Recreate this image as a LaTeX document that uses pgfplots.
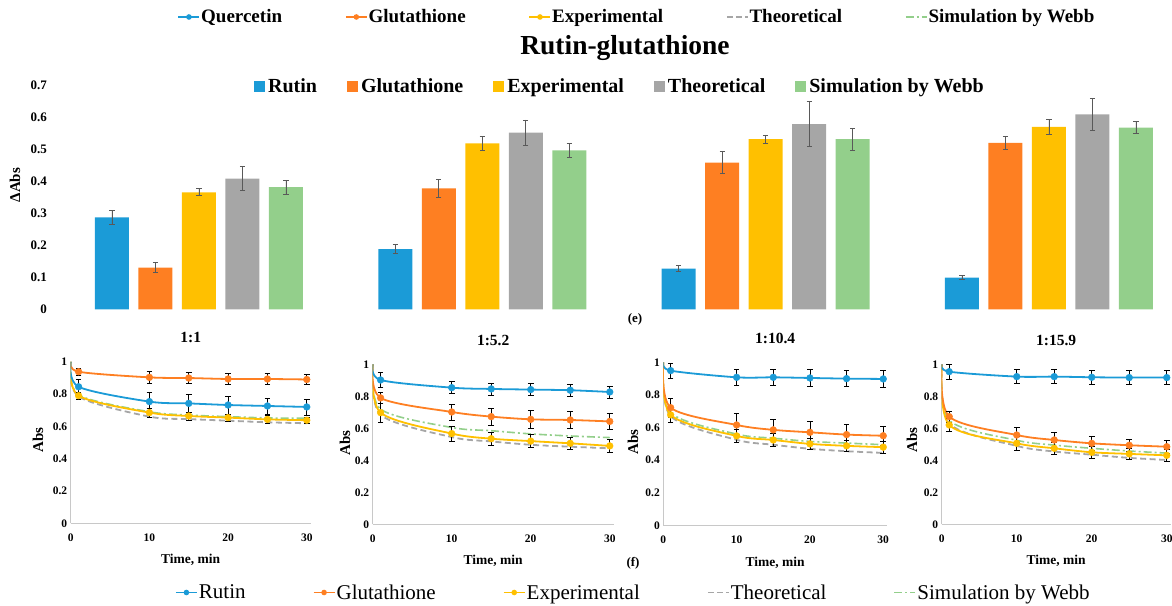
\documentclass[border=0pt]{standalone}
\usepackage{pgfplots}
\pgfplotsset{compat=1.18}
\usepackage{pgfplotstable}
\usepackage{fontspec}
\setmainfont{Liberation Serif}

\definecolor{cRut}{HTML}{1B9BD7}
\definecolor{cGlu}{HTML}{FE7F22}
\definecolor{cExp}{HTML}{FFC000}
\definecolor{cThe}{HTML}{A6A6A6}
\definecolor{cWeb}{HTML}{93CF8B}
\definecolor{cAxis}{HTML}{C8C8C8}
\definecolor{cErr}{HTML}{595959}

\newcommand\fs[1]{\fontsize{#1}{#1}\selectfont}

% Delta Abs per ratio group (0 = 1:1, 1 = 1:5.2, 2 = 1:10.4, 3 = 1:15.9)
\pgfplotstableread{
g rut  rute  glu   glue  ex    exe   th    the   wb    wbe
0 0.287 0.021 0.130 0.016 0.365 0.011 0.408 0.038 0.381 0.021
1 0.188 0.014 0.377 0.027 0.518 0.022 0.551 0.040 0.496 0.021
2 0.127 0.009 0.458 0.034 0.531 0.013 0.578 0.071 0.531 0.034
3 0.099 0.006 0.519 0.020 0.569 0.023 0.608 0.050 0.567 0.019
}\bars

% Absorbance kinetics, one table per ratio
\pgfplotstableread{
t  rut   rute  glu   glue  ex    exe   th    wb
0  1     0     1     0     1     0     1     1
1  0.845 0.045 0.938 0.020 0.790 0.020 0.785 0.795
10 0.753 0.055 0.903 0.038 0.685 0.028 0.660 0.690
15 0.742 0.055 0.899 0.035 0.664 0.025 0.645 0.670
20 0.732 0.055 0.893 0.033 0.654 0.022 0.635 0.660
25 0.726 0.050 0.893 0.033 0.643 0.022 0.625 0.652
30 0.720 0.050 0.890 0.030 0.638 0.020 0.619 0.650
}\pa
\pgfplotstableread{
t  rut   rute  glu   glue  ex    exe   th    wb
0  1     0     1     0     1     0     1     1
1  0.902 0.045 0.790 0.035 0.698 0.060 0.685 0.720
10 0.854 0.038 0.702 0.050 0.567 0.048 0.545 0.605
15 0.846 0.038 0.673 0.052 0.535 0.042 0.518 0.585
20 0.842 0.037 0.656 0.054 0.520 0.042 0.497 0.565
25 0.838 0.036 0.652 0.054 0.506 0.040 0.485 0.552
30 0.827 0.037 0.643 0.050 0.490 0.040 0.475 0.542
}\pb
\pgfplotstableread{
t  rut   rute  glu   glue  ex    exe   th    wb
0  1     0     1     0     1     0     1     1
1  0.949 0.045 0.722 0.057 0.678 0.045 0.670 0.690
10 0.908 0.050 0.616 0.070 0.549 0.040 0.525 0.560
15 0.908 0.050 0.586 0.065 0.524 0.040 0.495 0.535
20 0.904 0.050 0.571 0.065 0.500 0.035 0.470 0.515
25 0.900 0.050 0.557 0.065 0.488 0.035 0.455 0.505
30 0.898 0.050 0.550 0.060 0.480 0.035 0.445 0.495
}\pc
\pgfplotstableread{
t  rut   rute  glu   glue  ex    exe   th    wb
0  1     0     1     0     1     0     1     1
1  0.954 0.045 0.673 0.035 0.621 0.040 0.630 0.650
10 0.923 0.045 0.558 0.045 0.506 0.045 0.490 0.525
15 0.923 0.045 0.527 0.045 0.475 0.040 0.455 0.495
20 0.919 0.045 0.506 0.045 0.450 0.035 0.435 0.475
25 0.917 0.045 0.494 0.040 0.440 0.035 0.415 0.458
30 0.917 0.045 0.485 0.040 0.431 0.035 0.402 0.445
}\pd

\pgfplotsset{
  kinetic/.style={
    scale only axis, xmin=0, xmax=30.5, ymin=0, ymax=1,
    separate axis lines, axis x line=bottom, axis y line=left,
    axis line style={-, draw=cAxis, line width=0.9pt},
    xtick={0,10,20,30}, ytick={0,0.2,0.4,0.6,0.8,1},
    major tick length=0pt,
    /pgf/number format/assume math mode=true,
    tick label style={font=\bfseries\fs{11.5}},
    xticklabel style={yshift=-7pt},
    xlabel={Time, min},
    xlabel style={font=\bfseries\fs{13.5}, at={(axis description cs:0.5,-0.227)}, anchor=center},
    ylabel={Abs},
    ylabel style={font=\bfseries\fs{15}, anchor=center},
    title style={font=\bfseries\fs{15.5}, at={(axis description cs:0.5,1.11)}, anchor=center},
  },
  fitline/.style={smooth, no markers, line width=1.8pt},
  theo/.style={fitline, cThe, dash pattern=on 6pt off 3.5pt},
  webb/.style={fitline, cWeb, line width=1.6pt, dash pattern=on 8pt off 3pt on 2pt off 3pt},
  pts/.style={only marks, mark=*, mark size=3.4pt, forget plot,
    skip coords between index={0}{1},
    error bars/y dir=both, error bars/y explicit, error bars/error mark=-,
    error bars/error bar style={black, line width=0.7pt},
    error bars/error mark options={rotate=90, black, line width=0.7pt, mark size=2.8pt}},
  bar/.style={draw=none,
    error bars/y dir=both, error bars/y explicit, error bars/error mark=-,
    error bars/error bar style={cErr, line width=0.8pt},
    error bars/error mark options={rotate=90, cErr, line width=0.8pt, mark size=2.6pt}},
  lineleg/.style={legend image code/.code={%
    \draw[mark repeat=2, mark phase=2, ##1] plot coordinates {(0pt,0pt) (10.5pt,0pt) (21pt,0pt)};}},
  page/.style={scale only axis, hide axis, at={(0pt,0pt)}, anchor=south west,
    width=1172pt, height=605pt, xmin=0, xmax=1172, ymin=0, ymax=605},
}

\begin{document}
\begin{tikzpicture}
\path[use as bounding box] (0pt,0pt) rectangle (1172pt,605pt);

% top legend (quercetin set)
\begin{axis}[page, lineleg,
  legend style={at={(axis cs:636.5,588)}, anchor=center, draw=none, fill=none,
    legend columns=-1, font=\bfseries\fs{19}, nodes={inner sep=1pt},
    /tikz/every even column/.append style={column sep=62pt}}]
\addlegendimage{cRut, line width=1.5pt, mark=*, mark size=2pt}
\addlegendentry{Quercetin}
\addlegendimage{cGlu, line width=1.5pt, mark=*, mark size=2pt}
\addlegendentry{Glutathione}
\addlegendimage{cExp, line width=1.5pt, mark=*, mark size=2pt}
\addlegendentry{Experimental}
\addlegendimage{cThe, line width=1.5pt, dash pattern=on 6pt off 3pt}
\addlegendentry{Theoretical}
\addlegendimage{cWeb, line width=1.5pt, dash pattern=on 8pt off 3pt on 2pt off 3pt}
\addlegendentry{Simulation by Webb}
\end{axis}

% bottom legend (rutin set)
\begin{axis}[page, lineleg,
  legend style={at={(axis cs:633,12.5)}, anchor=center, draw=none, fill=none,
    legend columns=-1, font=\fs{21}, nodes={inner sep=1.25pt},
    /tikz/every even column/.append style={column sep=66pt}}]
\addlegendimage{cRut, line width=1.5pt, mark=*, mark size=2pt}
\addlegendentry{Rutin}
\addlegendimage{cGlu, line width=1.5pt, mark=*, mark size=2pt}
\addlegendentry{Glutathione}
\addlegendimage{cExp, line width=1.5pt, mark=*, mark size=2pt}
\addlegendentry{Experimental}
\addlegendimage{cThe, line width=1.5pt, dash pattern=on 6pt off 3pt}
\addlegendentry{Theoretical}
\addlegendimage{cWeb, line width=1.5pt, dash pattern=on 8pt off 3pt on 2pt off 3pt}
\addlegendentry{Simulation by Webb}
\end{axis}

\node[font=\bfseries\fs{27.5}] at (625pt,557pt) {Rutin-glutathione};
\node[font=\bfseries\fs{13}] at (635pt,286pt) {(e)};
\node[font=\bfseries\fs{13}] at (633pt,42pt) {(f)};

% panel (e): change in absorbance
\begin{axis}[scale only axis, at={(57.3pt,295.7pt)}, anchor=south west,
  width=1105pt, height=224.3pt,
  xmin=-0.5, xmax=3.4, ymin=0, ymax=0.7, enlargelimits=false,
  ybar=9.5pt, bar width=34pt,
  axis line style={draw=none}, xtick=\empty,
  ytick={0,0.1,0.2,0.3,0.4,0.5,0.6,0.7}, major tick length=0pt,
  /pgf/number format/assume math mode=true,
  yticklabel style={font=\bfseries\fs{13}, xshift=-7pt},
  ylabel={ΔAbs},
  ylabel style={font=\bfseries\fs{15}, at={(axis description cs:-0.0383,0.554)}, anchor=center},
  legend style={at={(axis description cs:0.5097,0.992)}, anchor=center, draw=none, fill=none,
    legend columns=-1, font=\bfseries\fs{20}, nodes={inner sep=3pt},
    /tikz/every even column/.append style={column sep=27pt}},
  legend image code/.code={\fill[#1] (0pt,-5.5pt) rectangle (11pt,5.5pt);},
]
\addplot[bar, fill=cRut] table[x=g, y=rut, y error=rute] {\bars};
\addlegendentry{Rutin}
\addplot[bar, fill=cGlu] table[x=g, y=glu, y error=glue] {\bars};
\addlegendentry{Glutathione}
\addplot[bar, fill=cExp] table[x=g, y=ex, y error=exe] {\bars};
\addlegendentry{Experimental}
\addplot[bar, fill=cThe] table[x=g, y=th, y error=the] {\bars};
\addlegendentry{Theoretical}
\addplot[bar, fill=cWeb] table[x=g, y=wb, y error=wbe] {\bars};
\addlegendentry{Simulation by Webb}
\end{axis}

% panel (f): kinetics at four ratios
\begin{axis}[kinetic, at={(70.7pt,81.7pt)}, anchor=south west, width=240pt, height=161.6pt,
  title={1:1}, ylabel style={at={(axis description cs:-0.136,0.515)}}]
\addplot[theo] table[x=t, y=th] {\pa};
\addplot[webb] table[x=t, y=wb] {\pa};
\addplot[fitline, cExp] table[x=t, y=ex] {\pa};
\addplot[fitline, cGlu] table[x=t, y=glu] {\pa};
\addplot[fitline, cRut] table[x=t, y=rut] {\pa};
\addplot[pts, cExp] table[x=t, y=ex, y error=exe] {\pa};
\addplot[pts, cGlu] table[x=t, y=glu, y error=glue] {\pa};
\addplot[pts, cRut] table[x=t, y=rut, y error=rute] {\pa};
\end{axis}

\begin{axis}[kinetic, at={(372.7pt,80.7pt)}, anchor=south west, width=241pt, height=160pt,
  title={1:5.2}, ylabel style={at={(axis description cs:-0.115,0.508)}}]
\addplot[theo] table[x=t, y=th] {\pb};
\addplot[webb] table[x=t, y=wb] {\pb};
\addplot[fitline, cExp] table[x=t, y=ex] {\pb};
\addplot[fitline, cGlu] table[x=t, y=glu] {\pb};
\addplot[fitline, cRut] table[x=t, y=rut] {\pb};
\addplot[pts, cExp] table[x=t, y=ex, y error=exe] {\pb};
\addplot[pts, cGlu] table[x=t, y=glu, y error=glue] {\pb};
\addplot[pts, cRut] table[x=t, y=rut, y error=rute] {\pb};
\end{axis}

\begin{axis}[kinetic, at={(663.3pt,79.5pt)}, anchor=south west, width=223.6pt, height=163.2pt,
  title={1:10.4}, ylabel style={at={(axis description cs:-0.1355,0.512)}}]
\addplot[theo] table[x=t, y=th] {\pc};
\addplot[webb] table[x=t, y=wb] {\pc};
\addplot[fitline, cExp] table[x=t, y=ex] {\pc};
\addplot[fitline, cGlu] table[x=t, y=glu] {\pc};
\addplot[fitline, cRut] table[x=t, y=rut] {\pc};
\addplot[pts, cExp] table[x=t, y=ex, y error=exe] {\pc};
\addplot[pts, cGlu] table[x=t, y=glu, y error=glue] {\pc};
\addplot[pts, cRut] table[x=t, y=rut, y error=rute] {\pc};
\end{axis}

\begin{axis}[kinetic, at={(941.7pt,80.7pt)}, anchor=south west, width=228.8pt, height=160pt,
  title={1:15.9}, ylabel style={at={(axis description cs:-0.13,0.527)}}]
\addplot[theo] table[x=t, y=th] {\pd};
\addplot[webb] table[x=t, y=wb] {\pd};
\addplot[fitline, cExp] table[x=t, y=ex] {\pd};
\addplot[fitline, cGlu] table[x=t, y=glu] {\pd};
\addplot[fitline, cRut] table[x=t, y=rut] {\pd};
\addplot[pts, cExp] table[x=t, y=ex, y error=exe] {\pd};
\addplot[pts, cGlu] table[x=t, y=glu, y error=glue] {\pd};
\addplot[pts, cRut] table[x=t, y=rut, y error=rute] {\pd};
\end{axis}
\end{tikzpicture}
\end{document}
